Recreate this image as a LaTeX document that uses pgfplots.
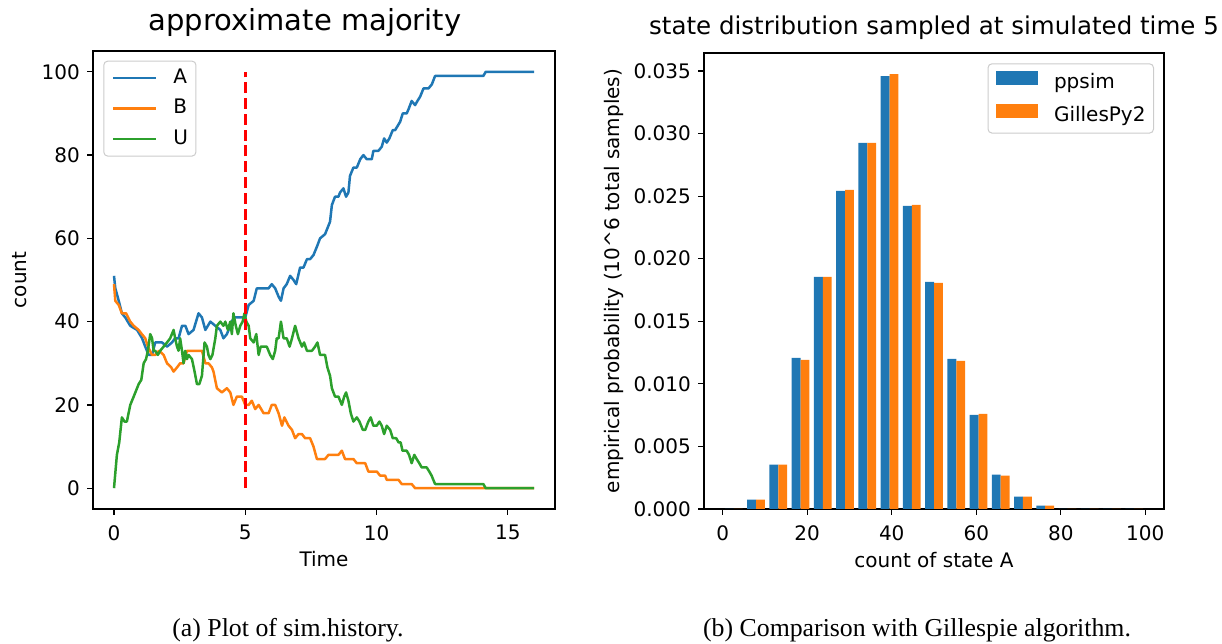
\documentclass[border=0pt]{standalone}
\usepackage{fontspec}
\setmainfont{DejaVu Sans}
\newfontfamily\capfont{Liberation Serif}
\usepackage{pgfplots}
\usepackage{pgfplotstable}
\pgfplotsset{compat=1.18}
\definecolor{cA}{HTML}{1F77B4}
\definecolor{cB}{HTML}{FF7F0E}
\definecolor{cU}{HTML}{2CA02C}
\definecolor{legframe}{HTML}{CCCCCC}

\pgfplotstableread{
t v
0 51
0.05 48
0.18 45
0.30 42
0.43 41
0.62 39
0.88 38
1.07 36
1.19 34
1.32 32
1.45 32
1.57 35
1.83 35
2.02 34
2.21 35
2.33 36
2.46 36
2.59 39
2.72 39
2.84 37
3.03 38
3.22 42
3.35 41
3.48 38
3.67 40
3.86 39
4.05 38
4.17 36
4.30 37
4.43 39
4.56 41
4.75 41
5.0 41
5.13 44
5.32 45
5.44 48
5.57 48
5.70 48
5.89 48
6.01 49
6.14 48
6.27 46
6.36 45
6.46 48
6.58 49
6.71 51
6.84 50
6.94 49
7.09 53
7.22 53
7.35 55
7.47 55
7.60 56
7.73 58
7.85 60
8.04 61
8.23 64
8.30 68
8.42 70
8.55 70
8.61 71
8.74 72
8.84 70
8.93 71
8.99 75
9.12 77
9.25 77
9.38 79
9.50 80
9.63 79
9.82 79
9.88 81
10.07 81
10.20 82
10.29 84
10.39 83
10.49 84
10.62 86
10.71 86
10.90 88
11.00 90
11.15 90
11.22 91
11.34 93
11.47 92
11.56 93
11.66 94
11.79 96
11.98 96
12.11 97
12.23 99
14.07 99
14.16 100
16.0 100
}\tableA

\pgfplotstableread{
t v
0 49
0.05 45
0.18 44
0.30 42
0.46 42
0.62 40
0.75 39
0.94 38
1.06 37
1.19 36
1.29 34
1.45 32
1.57 32
1.72 33
1.89 32
2.02 30
2.18 29
2.27 28
2.40 29
2.52 30
2.65 30
2.78 33
2.90 33
3.09 33
3.22 33
3.35 33
3.48 30
3.60 30
3.73 29
3.79 28
3.92 24
4.11 23
4.30 24
4.43 23
4.55 20
4.68 22
4.87 22
5.0 20
5.13 20
5.25 21
5.38 19
5.51 20
5.70 18
5.89 18
6.01 20
6.14 20
6.27 18
6.40 15
6.49 17
6.65 15
6.78 14
6.90 12
7.03 13
7.16 13
7.28 12
7.47 12
7.60 10
7.73 7
8.04 7
8.17 8
8.55 8
8.68 9
8.80 7
9.12 7
9.25 6
9.57 6
9.69 4
10.01 4
10.14 3
10.33 3
10.39 2
10.84 2
10.96 1
11.34 1
11.47 0
16.0 0
}\tableB

\pgfplotstableread{
t v
0 0
0.11 8
0.20 11
0.30 17
0.40 16
0.49 16
0.62 20
0.75 22
0.94 25
1.04 26
1.13 30
1.22 31
1.29 33
1.38 37
1.45 36
1.51 33
1.57 33
1.67 32
1.76 33
1.89 34
2.02 35
2.14 36
2.27 38
2.33 36
2.40 34
2.46 33
2.52 36
2.59 33
2.65 30
2.71 33
2.78 31
2.84 32
2.97 31
3.07 28
3.16 25
3.25 25
3.35 27
3.45 35
3.54 34
3.60 32
3.67 31
3.75 32
3.86 36
3.92 39
4.05 40
4.17 39
4.24 40
4.34 38
4.43 40
4.49 37
4.55 42
4.64 39
4.72 37
4.81 39
4.90 40
4.97 42
5.04 40
5.13 39
5.19 36
5.32 35
5.42 37
5.51 32
5.59 34
5.70 34
5.82 34
5.95 32
6.05 31
6.14 33
6.20 36
6.27 36
6.36 40
6.46 36
6.58 36
6.69 34
6.78 36
6.90 39
7.03 36
7.16 34
7.24 35
7.35 33
7.54 33
7.66 34
7.75 35
7.85 32
8.04 32
8.13 29
8.23 27
8.30 24
8.42 22
8.55 22
8.68 20
8.77 22
8.84 23
8.93 21
9.02 18
9.12 16
9.25 17
9.35 16
9.48 14
9.57 14
9.69 16
9.78 17
9.88 15
10.01 15
10.11 16
10.20 15
10.29 13
10.39 15
10.52 14
10.62 12
10.75 12
10.84 11
10.92 11
10.99 9
11.15 9
11.24 8
11.34 6
11.44 8
11.53 7
11.63 6
11.72 5
11.91 5
12.01 4
12.10 3
12.23 1
14.07 1
14.16 0
16.0 0
}\tableU

% histogram: bins of width 100/19; blue bars left of centre, orange right
\pgfplotstableread{
x p
1.579 0
6.842 0.00075
12.105 0.00354
17.368 0.01208
22.632 0.01855
27.895 0.02542
33.158 0.02925
38.421 0.03460
43.684 0.02422
48.947 0.01815
54.211 0.01200
59.474 0.00753
64.737 0.00274
70.000 0.00098
75.263 0.00027
80.526 0
85.789 0
91.053 0
96.316 0
}\tablePP

\pgfplotstableread{
x p
3.684 0
8.947 0.00075
14.211 0.00354
19.474 0.01192
24.737 0.01855
30.000 0.02550
35.263 0.02925
40.526 0.03476
45.789 0.02430
51.053 0.01807
56.316 0.01184
61.579 0.00761
66.842 0.00266
72.105 0.00098
77.368 0.00027
82.632 0
87.895 0
93.158 0
98.421 0
}\tableGP

\pgfplotsset{
  mplstyle/.style={
    scale only axis,
    anchor=south west,
    axis line style={line width=1.2pt, black},
    tick align=inside,
    major tick length=-6.5pt,
    every tick/.style={line width=1.2pt, black},
    xtick pos=bottom, ytick pos=left,
    /pgf/number format/assume math mode=true,
    tick label style={font=\fontsize{20}{24}\selectfont},
    xticklabel style={anchor=north, inner sep=0pt, yshift=-16pt},
    yticklabel style={anchor=east, inner sep=0pt, xshift=-13pt},
    label style={font=\fontsize{20}{24}\selectfont},
    legend cell align=left,
  },
}

\begin{document}
\begin{tikzpicture}
\useasboundingbox (0,0) rectangle (1222pt,644pt);

% ---------- (a) ----------
\begin{axis}[mplstyle,
  at={(93pt,135pt)}, width=462pt, height=458pt,
  xmin=-0.8, xmax=16.8, ymin=-5, ymax=105,
  xtick={0,5,10,15}, ytick={0,20,40,60,80,100},
  xlabel={Time}, ylabel={count},
  xlabel style={at={(axis description cs:0.5,-0.1266)}, anchor=base},
  ylabel style={at={(axis description cs:-0.1429,0.5)}, anchor=base},
  title={approximate majority},
  title style={at={(axis description cs:0.459,1.0306)}, anchor=base, font=\fontsize{29}{34}\selectfont},
  legend style={at={(0.0223,0.979)}, anchor=north west, draw=legframe, line width=1pt,
    rounded corners=4pt, fill=white, fill opacity=0.8, text opacity=1, draw opacity=1,
    inner xsep=8pt, inner ysep=7pt, row sep=10.5pt, column sep=16pt,
    font=\fontsize{20}{24}\selectfont,
    nodes={inner sep=0pt, text height=15pt, text depth=5pt}},
  legend image code/.code={\draw[#1, sharp corners, draw opacity=1, line width=2.5pt] (0pt,0pt) -- (43pt,0pt);},
]
\addplot[cA, line width=2.5pt, line join=round] table[x=t, y=v] {\tableA};
\addlegendentry{A}
\addplot[cB, line width=2.5pt, line join=round] table[x=t, y=v] {\tableB};
\addlegendentry{B}
\addplot[cU, line width=2.5pt, line join=round] table[x=t, y=v] {\tableU};
\addlegendentry{U}
\addplot[red, line width=3pt, dash pattern=on 11pt off 4.8pt, forget plot] coordinates {(5,0) (5,100)};
\end{axis}

% ---------- (b) ----------
\begin{axis}[mplstyle,
  at={(704pt,135pt)}, width=460pt, height=456pt,
  xmin=-4.42, xmax=104.42, ymin=0, ymax=0.03644,
  xtick={0,20,40,60,80,100},
  ytick={0,0.005,0.010,0.015,0.020,0.025,0.030,0.035},
  scaled y ticks=false,
  yticklabel={\pgfmathprintnumber[fixed, fixed zerofill, precision=3]{\tick}},
  xlabel={count of state A},
  ylabel={empirical probability (10\textasciicircum 6 total samples)},
  xlabel style={at={(axis description cs:0.5,-0.129)}, anchor=base},
  ylabel style={at={(axis description cs:-0.1848,0.5)}, anchor=base},
  title={state distribution sampled at simulated time 5},
  title style={at={(axis description cs:0.5,1.0263)}, anchor=base, font=\fontsize{24.5}{29}\selectfont},
  legend style={at={(0.9783,0.9774)}, anchor=north east, draw=legframe, line width=1pt,
    rounded corners=4pt, fill=white, fill opacity=0.8, text opacity=1, draw opacity=1,
    inner xsep=8pt, inner ysep=7pt, row sep=10.5pt, column sep=16pt,
    font=\fontsize{20}{24}\selectfont,
    nodes={inner sep=0pt, text height=15pt, text depth=5pt}},
  legend image code/.code={\fill[#1, sharp corners, fill opacity=1] (0pt,-2pt) rectangle (42pt,12.4pt);},
]
\addplot[ybar, bar width=2.105, bar shift=0pt, fill=cA, draw=none] table[x=x, y=p] {\tablePP};
\addlegendentry{ppsim}
\addplot[ybar, bar width=2.105, bar shift=0pt, fill=cB, draw=none] table[x=x, y=p] {\tableGP};
\addlegendentry{GillesPy2}
\end{axis}

\node[anchor=base, font=\capfont\fontsize{25.8}{30}\selectfont] at (288pt,7pt) {(a) Plot of sim.history.};
\node[anchor=base, font=\capfont\fontsize{25.8}{30}\selectfont] at (917pt,7pt) {(b) Comparison with Gillespie algorithm.};
\end{tikzpicture}
\end{document}
